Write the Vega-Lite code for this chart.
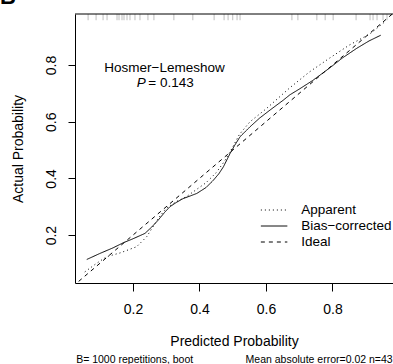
{
  "$schema": "https://vega.github.io/schema/vega-lite/v6.json",
  "autosize": {"type": "none"},
  "padding": {"left": 75, "top": 14, "right": 0, "bottom": 81},
  "width": 318,
  "height": 269,
  "config": {
    "view": {"stroke": null},
    "font": "Liberation Sans",
    "axis": {
      "domainColor": "black",
      "tickColor": "black",
      "labelColor": "black",
      "titleColor": "black",
      "labelFontSize": 14,
      "titleFontSize": 14,
      "titleFontWeight": "normal",
      "grid": false,
      "labelFlush": false
    },
    "legend": {"labelColor": "black"}
  },
  "datasets": {
    "curves": [
      {"series": "Apparent", "p": 0.055, "a": 0.07},
      {"series": "Apparent", "p": 0.09, "a": 0.10},
      {"series": "Apparent", "p": 0.121, "a": 0.124},
      {"series": "Apparent", "p": 0.161, "a": 0.137},
      {"series": "Apparent", "p": 0.211, "a": 0.159},
      {"series": "Apparent", "p": 0.241, "a": 0.194},
      {"series": "Apparent", "p": 0.276, "a": 0.259},
      {"series": "Apparent", "p": 0.30, "a": 0.295},
      {"series": "Apparent", "p": 0.33, "a": 0.318},
      {"series": "Apparent", "p": 0.36, "a": 0.335},
      {"series": "Apparent", "p": 0.39, "a": 0.36},
      {"series": "Apparent", "p": 0.42, "a": 0.385},
      {"series": "Apparent", "p": 0.45, "a": 0.42},
      {"series": "Apparent", "p": 0.475, "a": 0.46},
      {"series": "Apparent", "p": 0.495, "a": 0.50},
      {"series": "Apparent", "p": 0.52, "a": 0.555},
      {"series": "Apparent", "p": 0.552, "a": 0.60},
      {"series": "Apparent", "p": 0.60, "a": 0.645},
      {"series": "Apparent", "p": 0.672, "a": 0.72},
      {"series": "Apparent", "p": 0.73, "a": 0.775},
      {"series": "Apparent", "p": 0.792, "a": 0.825},
      {"series": "Apparent", "p": 0.85, "a": 0.87},
      {"series": "Apparent", "p": 0.913, "a": 0.91},
      {"series": "Apparent", "p": 0.96, "a": 0.955},
      {"series": "Bias−corrected", "p": 0.061, "a": 0.114},
      {"series": "Bias−corrected", "p": 0.10, "a": 0.135},
      {"series": "Bias−corrected", "p": 0.14, "a": 0.155},
      {"series": "Bias−corrected", "p": 0.171, "a": 0.173},
      {"series": "Bias−corrected", "p": 0.20, "a": 0.187},
      {"series": "Bias−corrected", "p": 0.236, "a": 0.206},
      {"series": "Bias−corrected", "p": 0.256, "a": 0.228},
      {"series": "Bias−corrected", "p": 0.276, "a": 0.253},
      {"series": "Bias−corrected", "p": 0.295, "a": 0.28},
      {"series": "Bias−corrected", "p": 0.311, "a": 0.30},
      {"series": "Bias−corrected", "p": 0.33, "a": 0.315},
      {"series": "Bias−corrected", "p": 0.351, "a": 0.329},
      {"series": "Bias−corrected", "p": 0.372, "a": 0.338},
      {"series": "Bias−corrected", "p": 0.392, "a": 0.347},
      {"series": "Bias−corrected", "p": 0.42, "a": 0.368},
      {"series": "Bias−corrected", "p": 0.442, "a": 0.394},
      {"series": "Bias−corrected", "p": 0.458, "a": 0.416},
      {"series": "Bias−corrected", "p": 0.472, "a": 0.441},
      {"series": "Bias−corrected", "p": 0.492, "a": 0.488},
      {"series": "Bias−corrected", "p": 0.505, "a": 0.515},
      {"series": "Bias−corrected", "p": 0.522, "a": 0.547},
      {"series": "Bias−corrected", "p": 0.552, "a": 0.582},
      {"series": "Bias−corrected", "p": 0.58, "a": 0.612},
      {"series": "Bias−corrected", "p": 0.612, "a": 0.641},
      {"series": "Bias−corrected", "p": 0.652, "a": 0.676},
      {"series": "Bias−corrected", "p": 0.672, "a": 0.695},
      {"series": "Bias−corrected", "p": 0.70, "a": 0.715},
      {"series": "Bias−corrected", "p": 0.74, "a": 0.745},
      {"series": "Bias−corrected", "p": 0.792, "a": 0.79},
      {"series": "Bias−corrected", "p": 0.83, "a": 0.825},
      {"series": "Bias−corrected", "p": 0.873, "a": 0.859},
      {"series": "Bias−corrected", "p": 0.91, "a": 0.885},
      {"series": "Bias−corrected", "p": 0.945, "a": 0.905},
      {"series": "Ideal", "p": 0.0, "a": 0.0},
      {"series": "Ideal", "p": 1.0, "a": 1.0}
    ],
    "rug": [
      {"p": 0.065}, {"p": 0.089}, {"p": 0.110}, {"p": 0.122}, {"p": 0.152},
      {"p": 0.158}, {"p": 0.167}, {"p": 0.173}, {"p": 0.182}, {"p": 0.191},
      {"p": 0.206}, {"p": 0.221}, {"p": 0.245}, {"p": 0.263}, {"p": 0.323},
      {"p": 0.380}, {"p": 0.444}, {"p": 0.474}, {"p": 0.486}, {"p": 0.500},
      {"p": 0.513}, {"p": 0.522}, {"p": 0.678}, {"p": 0.696}, {"p": 0.753},
      {"p": 0.778}, {"p": 0.802}, {"p": 0.871}, {"p": 0.913}, {"p": 0.922},
      {"p": 0.934}, {"p": 0.952}, {"p": 0.964}
    ]
  },
  "layer": [
    {
      "data": {"name": "curves"},
      "mark": {"type": "line", "clip": true, "color": "black", "strokeWidth": 1},
      "encoding": {
        "x": {
          "field": "p", "type": "quantitative",
          "scale": {"domain": [0.0256, 0.982], "nice": false, "zero": false},
          "axis": {"values": [0.2, 0.4, 0.6, 0.8], "format": ".1f", "title": "Predicted Probability",
                   "tickSize": 8, "labelPadding": 11, "titlePadding": 18}
        },
        "y": {
          "field": "a", "type": "quantitative",
          "scale": {"domain": [0.031, 0.98], "nice": false, "zero": false},
          "axis": {"values": [0.2, 0.4, 0.6, 0.8], "format": ".1f", "title": "Actual Probability",
                   "tickSize": 7, "labelAngle": -90, "labelAlign": "center", "labelBaseline": "bottom",
                   "labelPadding": 10, "titlePadding": 19}
        },
        "strokeDash": {
          "field": "series", "type": "nominal",
          "scale": {"domain": ["Apparent", "Bias−corrected", "Ideal"], "range": [[1, 3], [1, 0], [4, 4]]},
          "legend": {
            "orient": "none", "legendX": 191.6, "legendY": 188.5, "title": null,
            "symbolType": "M-2,0H2", "symbolSize": 175, "symbolStrokeColor": "black",
            "symbolFillColor": "transparent",
            "symbolStrokeWidth": 1, "labelFontSize": 13.5, "labelOffset": 19.6, "rowPadding": 2
          }
        },
        "detail": {"field": "series"}
      }
    },
    {
      "data": {"name": "rug"},
      "mark": {"type": "rule", "color": "#bdbdbd", "strokeWidth": 1},
      "encoding": {
        "x": {"field": "p", "type": "quantitative"},
        "y": {"datum": 0.98},
        "y2": {"datum": 0.958}
      }
    },
    {
      "data": {"values": [{}]},
      "mark": {"type": "rule", "color": "black", "strokeWidth": 1},
      "encoding": {"y": {"datum": 0.98}}
    },
    {
      "data": {"values": [{"x": -0.2, "y": 1.015, "label": "B"}]},
      "mark": {"type": "text", "fontSize": 22, "fontWeight": "bold", "baseline": "alphabetic", "align": "left", "color": "black"},
      "encoding": {
        "x": {"field": "x", "type": "quantitative"},
        "y": {"field": "y", "type": "quantitative"},
        "text": {"field": "label"}
      }
    },
    {
      "data": {"values": [{"x": 0.295, "y": 0.789, "label": "Hosmer−Lemeshow"}]},
      "mark": {"type": "text", "fontSize": 13.5, "baseline": "middle", "align": "center", "color": "black"},
      "encoding": {
        "x": {"field": "x", "type": "quantitative"},
        "y": {"field": "y", "type": "quantitative"},
        "text": {"field": "label"}
      }
    },
    {
      "data": {"values": [{"x": 0.211, "y": 0.738, "label": "P"}]},
      "mark": {"type": "text", "fontSize": 13.5, "baseline": "middle", "align": "left", "fontStyle": "italic", "color": "black"},
      "encoding": {
        "x": {"field": "x", "type": "quantitative"},
        "y": {"field": "y", "type": "quantitative"},
        "text": {"field": "label"}
      }
    },
    {
      "data": {"values": [{"x": 0.246, "y": 0.738, "label": "= 0.143"}]},
      "mark": {"type": "text", "fontSize": 13.5, "baseline": "middle", "align": "left", "color": "black"},
      "encoding": {
        "x": {"field": "x", "type": "quantitative"},
        "y": {"field": "y", "type": "quantitative"},
        "text": {"field": "label"}
      }
    },
    {
      "data": {"values": [{"x": 0.029, "y": -0.241, "label": "B= 1000 repetitions, boot"}]},
      "mark": {"type": "text", "fontSize": 10.5, "baseline": "middle", "align": "left", "color": "black"},
      "encoding": {
        "x": {"field": "x", "type": "quantitative"},
        "y": {"field": "y", "type": "quantitative"},
        "text": {"field": "label"}
      }
    },
    {
      "data": {"values": [{"x": 0.981, "y": -0.241, "label": "Mean absolute error=0.02 n=43"}]},
      "mark": {"type": "text", "fontSize": 10.5, "baseline": "middle", "align": "right", "color": "black"},
      "encoding": {
        "x": {"field": "x", "type": "quantitative"},
        "y": {"field": "y", "type": "quantitative"},
        "text": {"field": "label"}
      }
    }
  ]
}
